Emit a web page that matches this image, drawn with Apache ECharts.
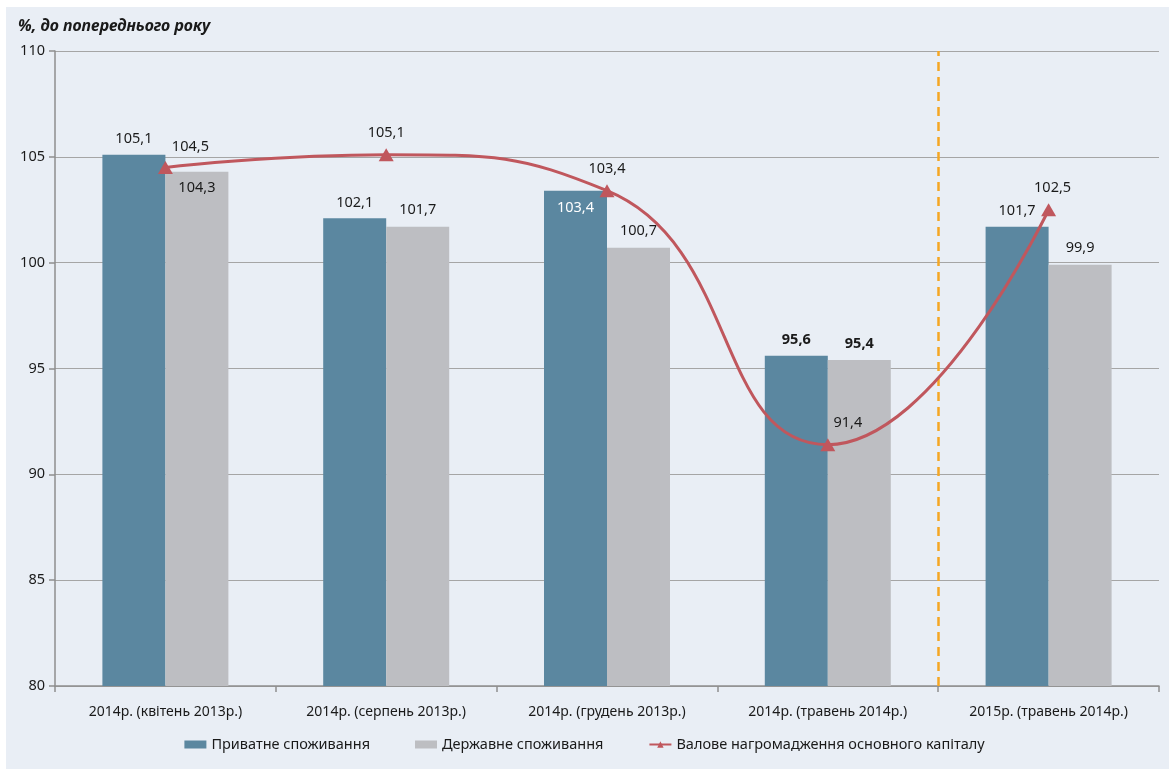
<!DOCTYPE html>
<html>
<head>
<meta charset="utf-8">
<script src="https://cdn.jsdelivr.net/npm/echarts@6/dist/echarts.min.js"></script>
<style>
html,body{margin:0;padding:0;background:#fff;}
#c{width:1169px;height:769px;}
</style>
</head>
<body>
<div id="c"></div>
<script>
const categories = ['2014р. (квітень 2013р.)','2014р. (серпень 2013р.)','2014р. (грудень 2013р.)','2014р. (травень 2014р.)','2015р. (травень 2014р.)'];
const privateCons = [105.1, 102.1, 103.4, 95.6, 101.7];
const publicCons = [104.3, 101.7, 100.7, 95.4, 99.9];
const grossCapital = [104.5, 105.1, 103.4, 91.4, 102.5];
const seriesNames = ['Приватне споживання','Державне споживання','Валове нагромадження основного капіталу'];
const yTicks = [80, 85, 90, 95, 100, 105, 110];
const dividerAt = 4;

const FONT = '"Noto Sans", "Open Sans", sans-serif';
const fmt = v => String(v).replace('.', ',');

const chart = echarts.init(document.getElementById('c'), null, {renderer:'canvas'});

const privData = privateCons.map((v, i) => {
  const d = {value: v};
  if (i === 2) d.label = {position: 'insideTop', distance: 10, color: '#fff'};
  if (i === 3) d.label = {fontWeight: 'bold'};
  return d;
});
const pubData = publicCons.map((v, i) => {
  const d = {value: v};
  if (i === 0) d.label = {position: 'insideTop', distance: 9};
  if (i === 3) d.label = {fontWeight: 'bold', distance: 9};
  return d;
});
const lineLabelOffsets = [[25, 1], [0, 0], [0, 0], [20, 0], [4, 0]];
const lineData = grossCapital.map((v, i) => ({
  value: v,
  label: {offset: lineLabelOffsets[i]}
}));

chart.setOption({
  animation: false,
  backgroundColor: 'transparent',
  textStyle: {fontFamily: FONT},
  graphic: [{
    type: 'rect', z: -10, silent: true,
    shape: {x: 6, y: 7, width: 1163, height: 762},
    style: {fill: '#E9EEF5'}
  }, {
    type: 'text', left: 18, top: 18,
    style: {text: '%, до попереднього року', font: 'italic bold 16px ' + FONT, fill: '#1a1a1a'}
  }],
  legend: {
    bottom: 12,
    left: 'center',
    itemGap: 45,
    itemWidth: 22,
    itemHeight: 8,
    textStyle: {fontSize: 14.5, color: '#1a1a1a', fontFamily: FONT},
    data: [
      {name: seriesNames[0], icon: 'rect'},
      {name: seriesNames[1], icon: 'rect'},
      {name: seriesNames[2]}
    ]
  },
  grid: {left: 55, right: 10, top: 51, bottom: 83, containLabel: false},
  xAxis: [{
    type: 'category',
    data: categories,
    axisLine: {lineStyle: {color: '#8E8E8E', width: 1.5}},
    axisTick: {show: true, length: 6, lineStyle: {color: '#8E8E8E', width: 1.5}},
    axisLabel: {color: '#1a1a1a', fontSize: 14, margin: 19}
  }, {
    type: 'value', min: 0, max: 5, show: false
  }],
  yAxis: {
    type: 'value',
    min: yTicks[0], max: yTicks[yTicks.length - 1], interval: 5,
    axisLine: {show: true, lineStyle: {color: '#8E8E8E', width: 1.5}},
    axisTick: {show: true, length: 6, lineStyle: {color: '#8E8E8E', width: 1.5}},
    axisLabel: {color: '#1a1a1a', fontSize: 14.5, margin: 10},
    splitLine: {lineStyle: {color: '#A5A5A5', width: 1.2}}
  },
  series: [{
    name: seriesNames[0],
    type: 'bar',
    data: privData,
    barWidth: 63,
    barGap: '0%',
    itemStyle: {color: '#5B87A0'},
    label: {show: true, position: 'top', distance: 8, color: '#1a1a1a', fontSize: 14.5, formatter: p => fmt(p.value)}
  }, {
    name: seriesNames[1],
    type: 'bar',
    data: pubData,
    barWidth: 63,
    barGap: '0%',
    itemStyle: {color: '#BDBEC2'},
    label: {show: true, position: 'top', distance: 9, color: '#1a1a1a', fontSize: 14.5, formatter: p => fmt(p.value)}
  }, {
    name: seriesNames[2],
    type: 'line',
    data: lineData,
    smooth: 0.5,
    symbol: 'triangle',
    symbolSize: [15, 13],
    lineStyle: {color: '#C0575D', width: 3},
    itemStyle: {color: '#C0575D'},
    label: {show: true, position: 'top', distance: 8, color: '#1a1a1a', fontSize: 14.5, formatter: p => fmt(p.value)},
    z: 5
  }, {
    type: 'line',
    xAxisIndex: 1,
    data: [],
    silent: true,
    markLine: {
      symbol: 'none',
      silent: true,
      label: {show: false},
      lineStyle: {color: '#F5A623', width: 2.5, type: [9, 6]},
      data: [{xAxis: dividerAt}]
    }
  }]
});
</script>
</body>
</html>
